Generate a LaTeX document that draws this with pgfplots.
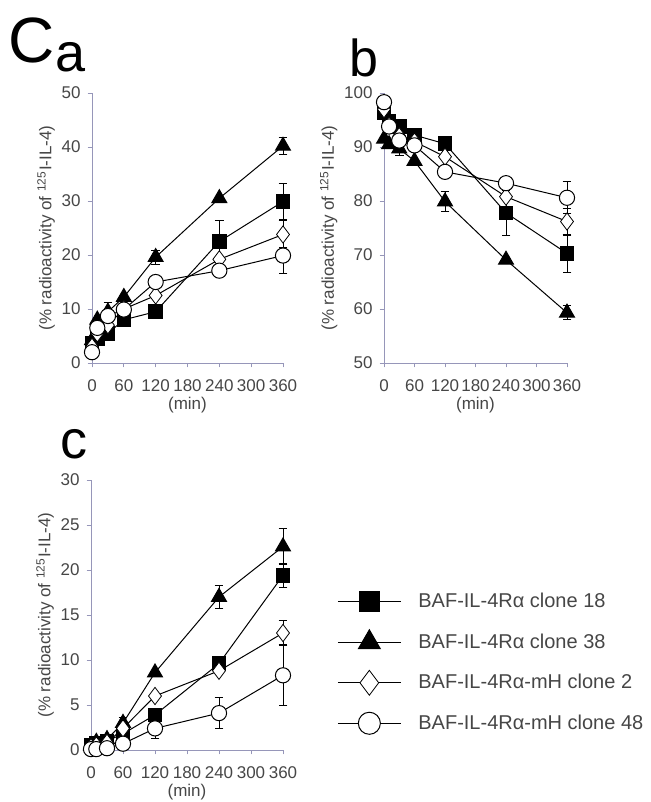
\documentclass[border=0pt]{standalone}
\usepackage{fontspec}
\setmainfont{Liberation Sans}
\usepackage{pgfplots}
\usepackage{pgfplotstable}
\pgfplotsset{compat=1.18}
\definecolor{axcol}{RGB}{150,150,185}
\definecolor{txtcol}{RGB}{70,70,70}

\pgfplotstableread{
t y e
0 3.6 0
10 4.5 0
30 5.5 0
60 8.0 0
120 9.5 0
240 22.5 3.9
360 29.9 3.4
}\aSq
\pgfplotstableread{
t y e
0 4.2 0
10 8.0 0
30 9.5 0
60 12.2 0
120 19.6 1.3
240 30.5 0
360 40.2 1.6
}\aTr
\pgfplotstableread{
t y e
0 3.0 0
10 5.5 0
30 7.0 0
60 10.0 0
120 12.5 0
240 19.2 0
360 23.8 2.5
}\aDi
\pgfplotstableread{
t y e
0 2.0 0
10 6.5 0
30 8.7 2.5
60 9.9 0
120 15.0 0
240 17.1 0
360 19.9 3.4
}\aCi

\pgfplotstableread{
t y e
0 96.3 0
10 94.8 0
30 93.8 0
60 92.2 0
120 90.6 0
240 77.8 4.2
360 70.3 3.5
}\bSq
\pgfplotstableread{
t y e
0 91.5 0
10 90.5 0
30 89.7 1.2
60 87.4 0
120 79.9 1.8
240 69.1 0
360 59.3 1.3
}\bTr
\pgfplotstableread{
t y e
0 97.0 0
10 94.0 0
30 92.0 0
60 91.0 0
120 88.2 0
240 80.8 0
360 76.2 2.5
}\bDi
\pgfplotstableread{
t y e
0 98.3 0
10 93.8 0
30 91.2 0
60 90.3 0
120 85.4 0
240 83.3 0
360 80.6 3.0
}\bCi

\pgfplotstableread{
t y e
0 0.5 0
10 0.8 0
30 1.0 0
60 1.8 0
120 3.9 0
240 9.6 0
360 19.4 1.3
}\cSq
\pgfplotstableread{
t y e
0 0.5 0
10 0.9 0
30 1.2 0
60 3.0 0.6
120 8.6 0
240 17.0 1.3
360 22.6 2.0
}\cTr
\pgfplotstableread{
t y e
0 0.3 0
10 0.5 0
30 0.8 0
60 2.4 0
120 6.0 0
240 8.8 0
360 13.0 1.4
}\cDi
\pgfplotstableread{
t y e
0 0.1 0
10 0.1 0
30 0.2 0
60 0.7 0
120 2.4 1.1
240 4.1 1.7
360 8.3 3.4
}\cCi

\pgfplotsset{
  panel/.style={
    scale only axis,
    anchor=south west,
    height=135pt,
    axis lines=left,
    axis line style={-, draw=axcol, line width=0.5pt},
    tick style={draw=axcol, line width=0.5pt},
    tick align=outside,
    major tick length=2.2pt,
    xmin=0, xmax=360,
    xtick={0,60,...,360},
    clip=false,
    /pgf/number format/assume math mode=true,
    ticklabel style={font=\fontsize{8.5}{9}\selectfont, text=txtcol},
    xticklabel style={yshift=-2.5pt},
    label style={font=\fontsize{8.5}{9}\selectfont, text=txtcol},
    xlabel={(min)},
    xlabel style={yshift=4pt},
    ylabel={(\% radioactivity of \textsuperscript{125}I-IL-4)},
    ylabel style={yshift=-3.5pt},
    legend image code/.code={
      \draw[mark repeat=2, mark phase=2, every mark/.append style={scale=1.45}]
        plot coordinates {(0pt,0pt) (15.75pt,0pt) (31.5pt,0pt)};
    },
  },
  dat/.style={
    line width=0.5pt, black,
    error bars/y dir=both, error bars/y explicit,
    error bars/error bar style={line width=0.5pt, black},
    error bars/error mark options={rotate=90, mark size=2.2pt, line width=0.5pt, black},
  },
  sq/.style={dat, mark=square*, mark size=3.4pt, mark options={fill=black, draw=black}},
  tr/.style={dat, mark=triangle*, mark size=4.3pt, mark options={fill=black, draw=black}},
  di/.style={dat, mark=diamond*, mark size=4.3pt, mark options={fill=white, draw=black, line width=0.4pt}},
  ci/.style={dat, mark=*, mark size=3.8pt, mark options={fill=white, draw=black, line width=0.5pt}},
}

\begin{document}
\begin{tikzpicture}
\useasboundingbox (0,0) rectangle (325.5pt,-401pt);

\node[anchor=base west, inner sep=0pt, font=\fontsize{32}{36}\selectfont] at (4pt,-31.5pt) {C};
\node[anchor=base west, inner sep=0pt, font=\fontsize{27}{30}\selectfont] at (27.6pt,-36pt) {a};
\node[anchor=base west, inner sep=0pt, font=\fontsize{26}{30}\selectfont] at (174.6pt,-38.5pt) {b};
\node[anchor=base west, inner sep=0pt, font=\fontsize{27}{30}\selectfont] at (30pt,-229pt) {c};

% panel a
\begin{axis}[panel, at={(46pt,-181.5pt)}, width=95.5pt, ymin=0, ymax=50, ytick={0,10,...,50}]
\addplot[sq] table[x=t, y=y, y error=e] {\aSq};
\addplot[tr] table[x=t, y=y, y error=e] {\aTr};
\addplot[di] table[x=t, y=y, y error=e] {\aDi};
\addplot[ci] table[x=t, y=y, y error=e] {\aCi};
\end{axis}

% panel b
\begin{axis}[panel, at={(192pt,-181.5pt)}, width=91.5pt, ymin=50, ymax=100, ytick={50,60,...,100}]
\addplot[sq] table[x=t, y=y, y error=e] {\bSq};
\addplot[tr] table[x=t, y=y, y error=e] {\bTr};
\addplot[di] table[x=t, y=y, y error=e] {\bDi};
\addplot[ci] table[x=t, y=y, y error=e] {\bCi};
\end{axis}

% panel c
\begin{axis}[panel, at={(45.5pt,-375pt)}, width=96pt, ymin=0, ymax=30, ytick={0,5,...,30},
  legend style={at={(1.281,0.324)}, anchor=west, draw=none, fill=none, inner sep=0pt,
    nodes={inner sep=0pt, anchor=west, font=\fontsize{10}{11}\selectfont, text=txtcol, minimum height=20.25pt},
    column sep=8.5pt, row sep=0pt},
  legend cell align=left]
\addplot[sq] table[x=t, y=y, y error=e] {\cSq};
\addlegendentry{BAF-IL-4Rα clone 18}
\addplot[tr] table[x=t, y=y, y error=e] {\cTr};
\addlegendentry{BAF-IL-4Rα clone 38}
\addplot[di] table[x=t, y=y, y error=e] {\cDi};
\addlegendentry{BAF-IL-4Rα-mH clone 2}
\addplot[ci] table[x=t, y=y, y error=e] {\cCi};
\addlegendentry{BAF-IL-4Rα-mH clone 48}
\end{axis}
\end{tikzpicture}
\end{document}
